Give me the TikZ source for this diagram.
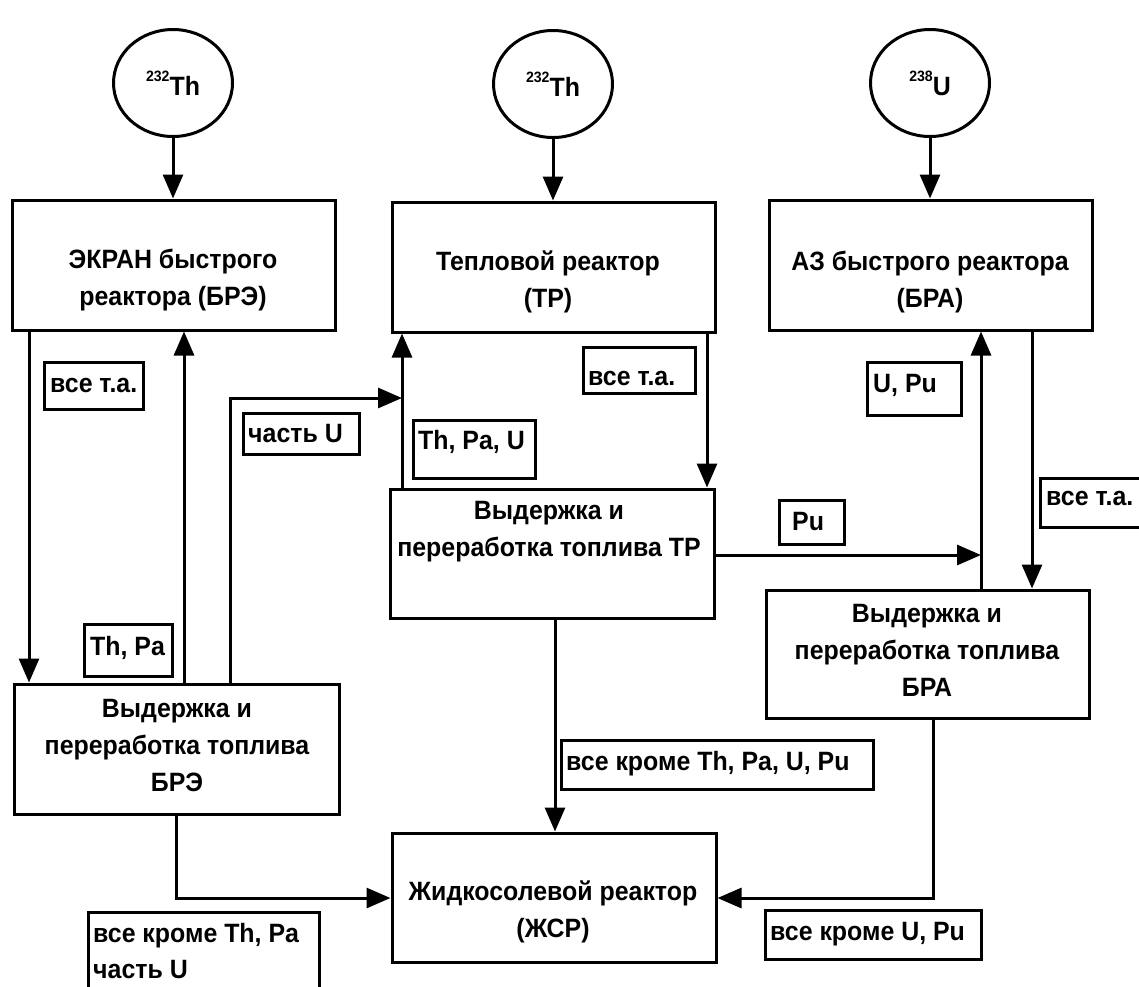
\documentclass[tikz,border=0pt]{standalone}
\usepackage{fontspec}
\setmainfont{Liberation Sans}[FakeStretch=0.94]
\usetikzlibrary{arrows.meta,calc,shapes.geometric}
% box corner x,y ; width ; height ; name ; text x ; text baseline y (last line) ; text
\newcommand\mylab[8]{%
  \node[lbl, minimum width=#3pt, minimum height=#4pt] (#5) at (#1,#2) {};
  \node[ltxt] (#5t) at (#6,#7) {#8};}
\newcommand\iso[2]{\raisebox{14pt}{\fontsize{15}{15}\selectfont #1}#2}
\begin{document}
\begin{tikzpicture}[x=1pt,y=-1pt,
  box/.style={draw, line width=3pt, rectangle, inner sep=0pt},
  circ/.style={draw, ellipse, line width=3pt, minimum width=119pt, minimum height=107pt, inner sep=0pt,
     font=\fontsize{26.5}{30}\selectfont\bfseries},
  txt/.style={font=\fontsize{26.5}{37}\selectfont\bfseries, align=center, inner sep=0pt},
  lbl/.style={draw, line width=3pt, rectangle, anchor=north west, inner sep=0pt},
  ltxt/.style={anchor=base west, inner sep=0pt, font=\fontsize{26.5}{36}\selectfont\bfseries, align=left},
  arr/.style={line width=3pt, -{Triangle[length=24pt,width=20pt]}}
]
\useasboundingbox (0,0) rectangle (1139,986);

% source circles
\node[circ] (c1) at (173,83) {\iso{232}{Th}};
\node[circ] (c2) at (553,84) {\iso{232}{Th}};
\node[circ] (c3) at (930,83) {\iso{238}{U}};

% boxes
\node[box, minimum width=323pt, minimum height=130pt] (b1) at (173.5,265) {};
\node[box, minimum width=323pt, minimum height=130pt] (b2) at (553.5,267) {};
\node[box, minimum width=323pt, minimum height=130pt] (b3) at (930.5,265) {};
\node[box, minimum width=325pt, minimum height=130pt] (b4) at (176.5,749) {};
\node[box, minimum width=324pt, minimum height=129pt] (b5) at (552,553.5) {};
\node[box, minimum width=323pt, minimum height=128pt] (b6) at (927.5,654) {};
\node[box, minimum width=324pt, minimum height=129pt] (b7) at (554,897.5) {};

% box texts
\node[txt] (t1) at (173,280) {ЭКРАН быстрого\\реактора (БРЭ)};
\node[txt] (t2) at (548,282) {Тепловой реактор\\(ТР)};
\node[txt] (t3) at (930,282) {АЗ быстрого реактора\\(БРА)};
\node[txt] (t4) at (177,745) {Выдержка и\\переработка топлива\\БРЭ};
\node[txt] (t5) at (549,532) {Выдержка и\\переработка топлива ТР};
\node[txt] (t6) at (927,650) {Выдержка и\\переработка топлива\\БРА};
\node[txt] (t7) at (553,912) {Жидкосолевой реактор\\(ЖСР)};

% helper coordinates
\coordinate (xa) at (29,0);
\coordinate (xb) at (184,0);
\coordinate (xc) at (230,0);
\coordinate (xd) at (402,0);
\coordinate (xe) at (707,0);
\coordinate (xf) at (981,0);
\coordinate (xg) at (1032,0);
\coordinate (xh) at (555,0);
\coordinate (xi) at (176,0);
\coordinate (xj) at (933,0);
\coordinate (yU) at (0,398);
\coordinate (yPu) at (0,555);
\coordinate (yL) at (0,898);

% connectors
\draw[arr] (c1.south) -- (c1.south |- b1.north);
\draw[arr] (c2.south) -- (c2.south |- b2.north);
\draw[arr] (c3.south) -- (c3.south |- b3.north);
\draw[arr] (b1.south -| xa) -- (b4.north -| xa);
\draw[arr] (b4.north -| xb) -- (b1.south -| xb);
\draw[arr] (b4.north -| xc) -- (xc |- yU) -- (xd |- yU);
\draw[arr] (b5.north -| xd) -- (b2.south -| xd);
\draw[arr] (b2.south -| xe) -- (b5.north -| xe);
\draw[arr] (b5.east |- yPu) -- (xf |- yPu);
\draw[arr] (b6.north -| xf) -- (b3.south -| xf);
\draw[arr] (b3.south -| xg) -- (b6.north -| xg);
\draw[arr] (b5.south -| xh) -- (b7.north -| xh);
\draw[arr] (b4.south -| xi) -- (xi |- yL) -- (b7.west |- yL);
\draw[arr] (b6.south -| xj) -- (xj |- yL) -- (b7.east |- yL);

% labels
\mylab{43}{361}{99}{47}{l1}{50}{392}{все т.а.}
\mylab{242}{412}{116}{41}{l2}{248}{442}{часть U}
\mylab{83}{623}{88}{52}{l3}{90}{655}{Th, Pa}
\mylab{582}{346}{112}{46}{l4}{588}{385}{все т.а.}
\mylab{412}{419}{122}{58}{l5}{418}{449}{Th, Pa, U}
\mylab{866}{361}{94}{53}{l6}{873}{392}{U, Pu}
\mylab{778}{499}{65}{44}{l7}{792}{530}{Pu}
\mylab{1039}{477}{102}{49}{l8}{1046}{505}{все т.а.}
\mylab{560}{739}{312}{49}{l9}{566}{770}{все кроме Th, Pa, U, Pu}
\mylab{87}{911}{231}{90}{l10}{93}{978}{все кроме Th, Pa\\часть U}
\mylab{764}{909}{216}{49}{l11}{770}{940}{все кроме U, Pu}
\end{tikzpicture}
\end{document}
